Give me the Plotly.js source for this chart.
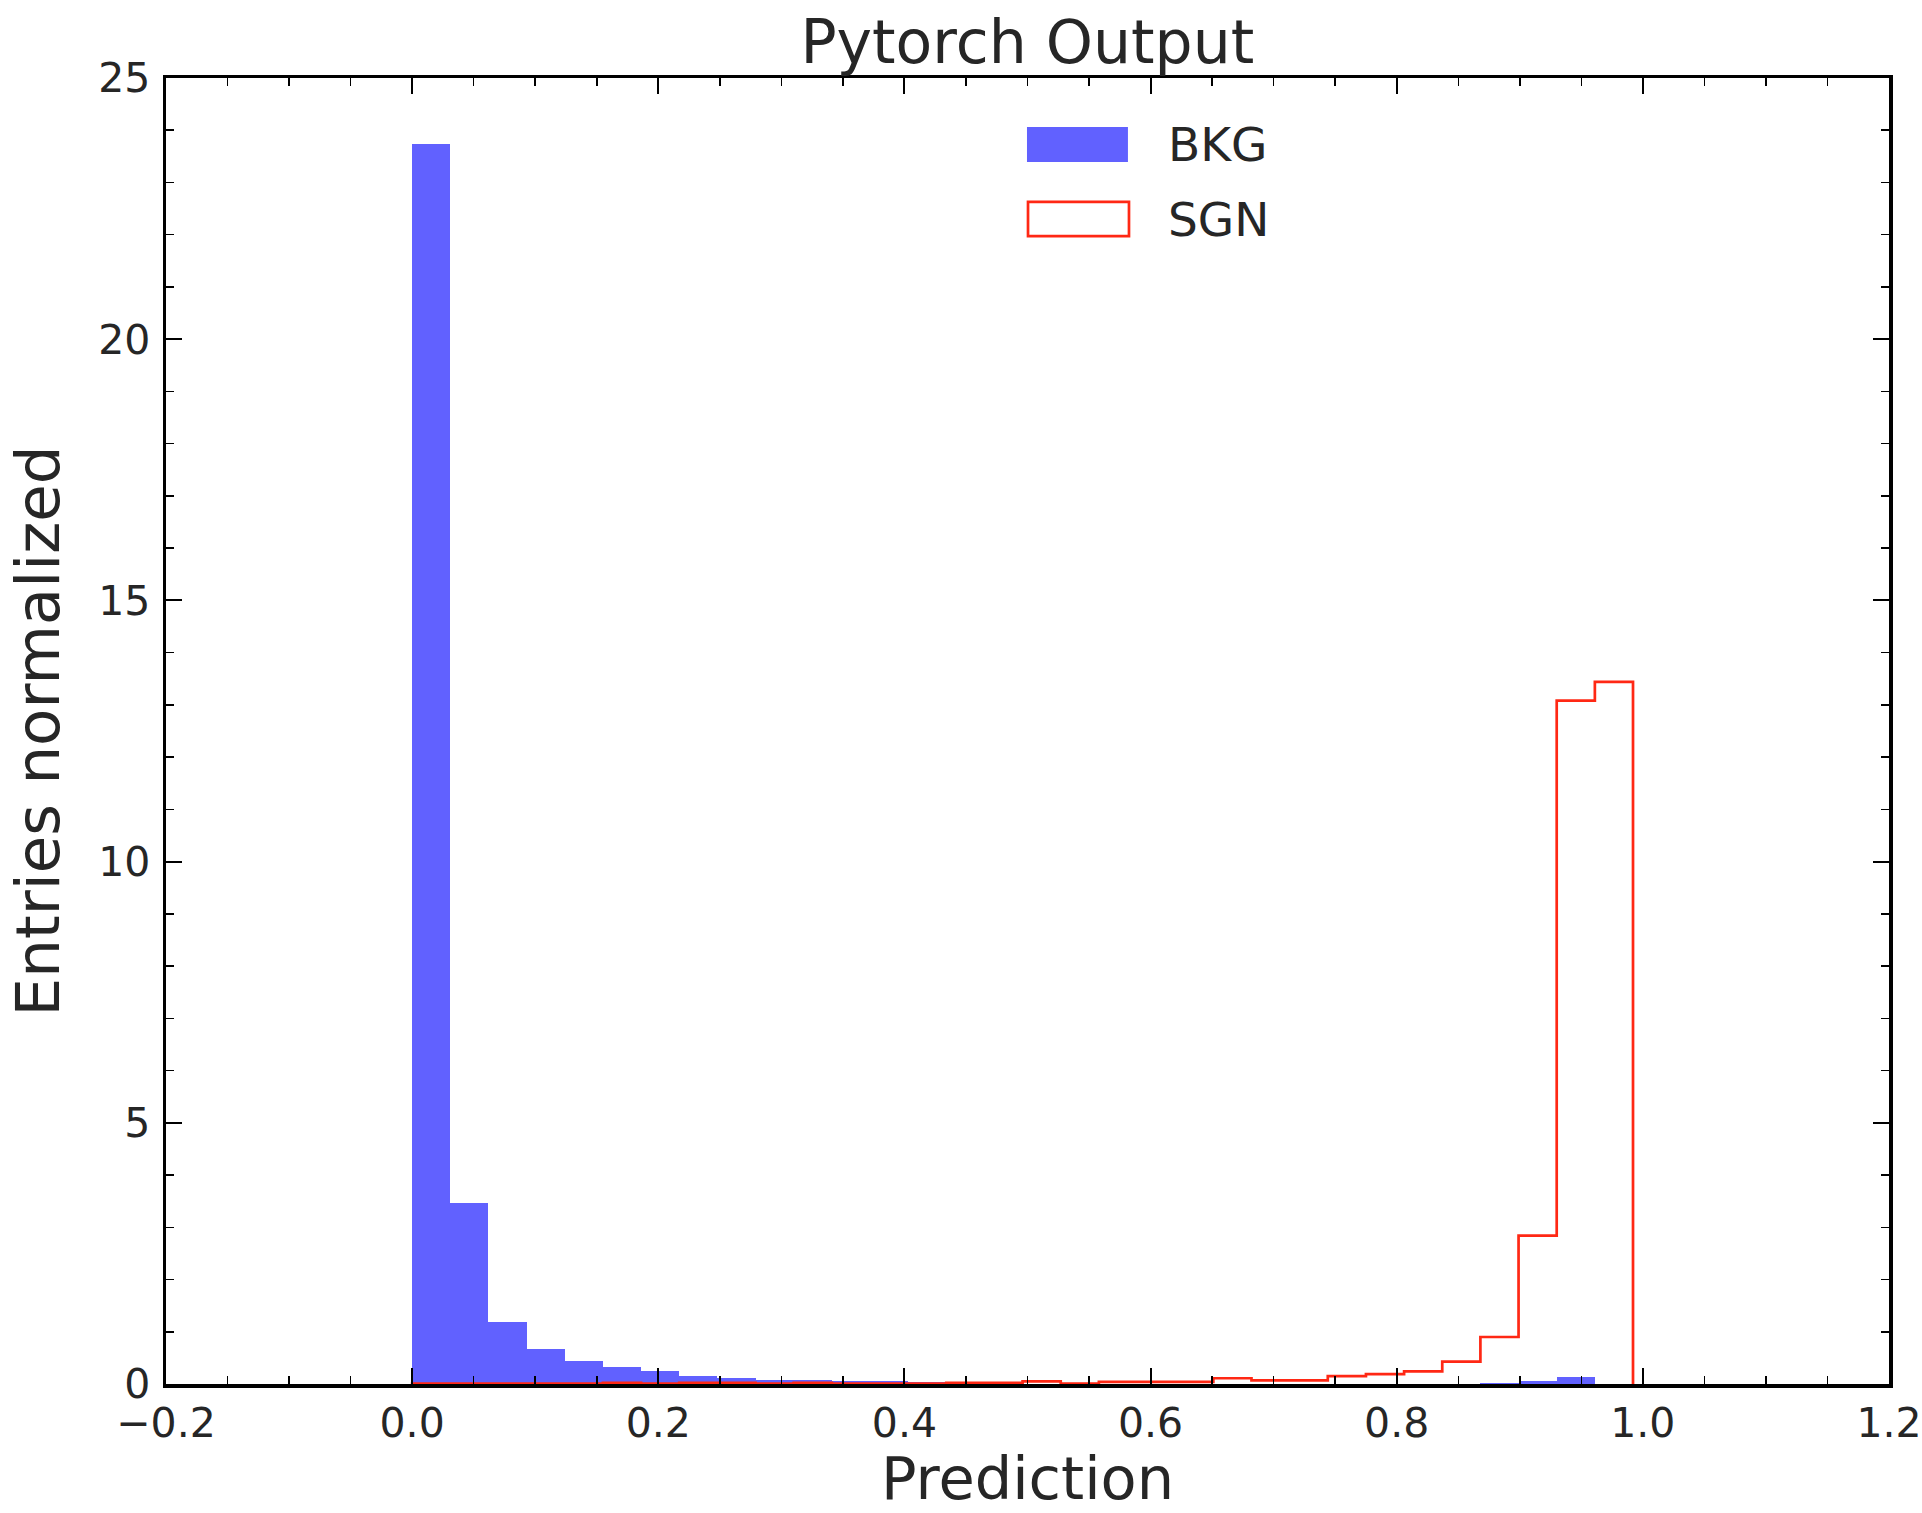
<!DOCTYPE html>
<html>
<head>
<meta charset="utf-8">
<script src="https://cdn.plot.ly/plotly-3.0.1.min.js"></script>
<style>
  html, body { margin: 0; padding: 0; background: #ffffff; }
  #chart { width: 1922px; height: 1513px; }
</style>
</head>
<body>
<div id="chart"></div>
<script>
// Histogram bin edges (32 bins)
const binEdges = [0.000, 0.031, 0.062, 0.093, 0.124, 0.155, 0.186, 0.217, 0.248, 0.279,
                  0.310, 0.341, 0.372, 0.403, 0.434, 0.465, 0.496, 0.527, 0.558, 0.589,
                  0.620, 0.651, 0.682, 0.713, 0.744, 0.775, 0.806, 0.837, 0.868, 0.899,
                  0.930, 0.961, 0.992];

// Background (BKG) normalized entries per bin
const bkgValues = [23.74, 3.47, 1.18, 0.67, 0.44, 0.32, 0.24, 0.16, 0.11, 0.08,
                   0.08, 0.05, 0.05, 0.04, 0.00, 0.00, 0.00, 0.00, 0.00, 0.00,
                   0.00, 0.00, 0.00, 0.00, 0.00, 0.00, 0.00, 0.00, 0.01, 0.05,
                   0.13, 0.00];

// Signal (SGN) normalized entries per bin
const sgnValues = [0.01, 0.01, 0.01, 0.01, 0.01, 0.02, 0.01, 0.02, 0.02, 0.01,
                   0.02, 0.01, 0.01, 0.01, 0.02, 0.02, 0.05, 0.01, 0.04, 0.04,
                   0.04, 0.11, 0.07, 0.07, 0.15, 0.19, 0.24, 0.43, 0.90, 2.84,
                   13.08, 13.44];

const seriesNames = ["BKG", "SGN"];
const xTickVals = [-0.2, 0.0, 0.2, 0.4, 0.6, 0.8, 1.0, 1.2];
const yTickVals = [0, 5, 10, 15, 20, 25];

const FONT = "DejaVu Sans, Bitstream Vera Sans, sans-serif";
const TEXT = "#262626";
const BLUE = "rgba(0,0,255,0.62)";
const RED = "rgb(255,40,20)";

// bar geometry from edges
const leftEdges = binEdges.slice(0, -1);
const widths = leftEdges.map((e, i) => binEdges[i + 1] - e);

// step outline for SGN
const stepX = [binEdges[0]].concat(binEdges);
const stepY = [0].concat(sgnValues).concat([0]);

const traces = [
  {
    type: "bar",
    name: seriesNames[0],
    x: leftEdges,
    y: bkgValues,
    width: widths,
    offset: 0,
    marker: { color: BLUE, line: { width: 0 } },
    showlegend: false,
    hoverinfo: "x+y+name"
  },
  {
    type: "scatter",
    mode: "lines",
    name: seriesNames[1],
    x: stepX,
    y: stepY,
    line: { color: RED, width: 2.7, shape: "hv" },
    showlegend: false,
    hoverinfo: "x+y+name"
  }
];

const axisCommon = {
  showgrid: false,
  zeroline: false,
  showline: true,
  linecolor: "black",
  linewidth: 3.5,
  mirror: "ticks",
  ticks: "inside",
  ticklen: 16,
  tickwidth: 2,
  tickcolor: "black",
  tickfont: { family: FONT, size: 41, color: TEXT }
};

const layout = {
  width: 1922,
  height: 1513,
  paper_bgcolor: "#ffffff",
  plot_bgcolor: "#ffffff",
  margin: { l: 166, r: 33, t: 78, b: 129, pad: 0 },
  font: { family: FONT, color: TEXT },
  title: {
    text: "Pytorch Output",
    font: { family: FONT, size: 60, color: TEXT },
    x: 0.5345,
    xanchor: "center",
    yref: "container",
    y: 1 - 42 / 1513,
    yanchor: "middle"
  },
  bargap: 0,
  xaxis: Object.assign({}, axisCommon, {
    range: [-0.2, 1.2],
    tickvals: xTickVals,
    tickformat: ".1f",
    ticklabelstandoff: 0,
    minor: { dtick: 0.05, ticks: "inside", ticklen: 8, tickwidth: 1.5, tickcolor: "black", showgrid: false },
    title: { text: "Prediction", font: { family: FONT, size: 59, color: TEXT }, standoff: 34 }
  }),
  yaxis: Object.assign({}, axisCommon, {
    range: [0, 25],
    tickvals: yTickVals,
    ticklabelstandoff: 4,
    minor: { dtick: 1, ticks: "inside", ticklen: 8, tickwidth: 1.5, tickcolor: "black", showgrid: false },
    title: { text: "Entries normalized", font: { family: FONT, size: 61, color: TEXT }, standoff: 20 }
  }),
  shapes: [
    { type: "rect", xref: "paper", yref: "paper", x0: 0.4997, x1: 0.5583, y0: 0.9357, y1: 0.9625,
      fillcolor: BLUE, line: { width: 0 } },
    { type: "rect", xref: "paper", yref: "paper", x0: 0.5003, x1: 0.5589, y0: 0.8790, y1: 0.9051,
      fillcolor: "rgba(0,0,0,0)", line: { color: RED, width: 2.7 } }
  ],
  annotations: [
    { xref: "paper", yref: "paper", x: 0.5805, y: 0.949, xanchor: "left", yanchor: "middle",
      text: seriesNames[0], showarrow: false, font: { family: FONT, size: 47, color: TEXT } },
    { xref: "paper", yref: "paper", x: 0.5805, y: 0.892, xanchor: "left", yanchor: "middle",
      text: seriesNames[1], showarrow: false, font: { family: FONT, size: 47, color: TEXT } }
  ]
};

Plotly.newPlot("chart", traces, layout, { displayModeBar: false, staticPlot: true });
</script>
</body>
</html>
